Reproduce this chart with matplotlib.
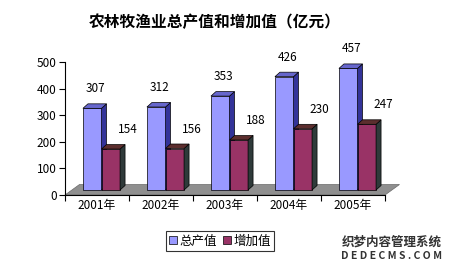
import matplotlib
matplotlib.use("Agg")
import matplotlib.pyplot as plt
from matplotlib.patches import Polygon, Patch

plt.rcParams['font.family'] = ['Noto Sans CJK SC', 'DejaVu Sans']

categories = ['2001年', '2002年', '2003年', '2004年', '2005年']
total_output = [307, 312, 353, 426, 457]
value_added = [154, 156, 188, 230, 247]
series_names = ['总产值', '增加值']
title = '农林牧渔业总产值和增加值（亿元）'

W, H = 453, 270
fig = plt.figure(figsize=(W / 100, H / 100), dpi=100)
ax_l, ax_b, ax_w, ax_h = 65, 75, 320, 133
ax = fig.add_axes([ax_l / W, ax_b / H, ax_w / W, ax_h / H])
n = len(categories)
ax.set_xlim(0, n)
ax.set_ylim(0, 500)

pxX = n / ax_w
pxY = 500 / ax_h

# offsets in pixels (right, up)
Fx, Fy = 4.5 * pxX, 5 * pxY      # bar front plane
Bx, By = 5 * pxX, 4.5 * pxY      # bar depth
Dx, Dy = 14.5 * pxX, 10.5 * pxY  # floor depth

# floor
floor = Polygon([(0, 0), (n, 0), (n + Dx, Dy), (Dx, Dy)], closed=True,
                facecolor='#8f8f8f', edgecolor='#6a6a6a', lw=0.5,
                clip_on=False, zorder=1)
ax.add_patch(floor)

w = 0.29
styles = [
    dict(front='#9999ff', side='#333399', top='#6666cc'),
    dict(front='#993366', side='#2f3a3a', top='#5c2e2e'),
]
xs = list(range(n))
for s, (vals, st) in enumerate(zip([total_output, value_added], styles)):
    lefts = [i + 0.5 - w + s * w for i in xs]
    z = 3 + s
    ax.bar([l + Fx for l in lefts], vals, width=w, bottom=Fy, align='edge',
           color=st['front'], edgecolor='black', lw=0.5, zorder=z)
    for l, v in zip(lefts, vals):
        x0 = l + Fx
        x1 = x0 + w
        side = Polygon([(x1, Fy), (x1 + Bx, Fy + By), (x1 + Bx, v + Fy + By), (x1, v + Fy)],
                       closed=True, facecolor=st['side'], edgecolor='black', lw=0.5,
                       zorder=z, clip_on=False)
        top = Polygon([(x0, v + Fy), (x1, v + Fy), (x1 + Bx, v + Fy + By), (x0 + Bx, v + Fy + By)],
                      closed=True, facecolor=st['top'], edgecolor='black', lw=0.5,
                      zorder=z, clip_on=False)
        ax.add_patch(side)
        ax.add_patch(top)

# data labels
for i in xs:
    ax.text(i + 0.48, total_output[i] + 92, str(total_output[i]), ha='center', va='center',
            fontsize=8.5, clip_on=False)
    ax.text(i + 0.98, value_added[i] + 92, str(value_added[i]), ha='center', va='center',
            fontsize=8.5, clip_on=False)

# axes styling
for sp in ['top', 'right']:
    ax.spines[sp].set_visible(False)
ax.spines['left'].set_linewidth(0.8)
ax.spines['bottom'].set_linewidth(0.8)
ax.spines['bottom'].set_zorder(2)
ax.set_yticks(range(0, 501, 100))
ax.tick_params(axis='y', direction='out', length=4, width=0.8, labelsize=8.5, pad=2)
ax.set_xticks(range(0, n + 1))
ax.set_xticklabels([])
ax.set_xticks([i + 0.5 for i in xs], minor=True)
ax.set_xticklabels(categories, minor=True)
ax.tick_params(axis='x', which='major', direction='out', length=4, width=0.8)
ax.tick_params(axis='x', which='minor', length=0, labelsize=8.5, pad=3)
ax.set_facecolor('none')

fig.text(215 / W, 1 - 22 / H, title, ha='center', va='center', fontsize=11.3, fontweight='bold')

handles = [Patch(facecolor=styles[0]['front'], edgecolor='black', lw=0.5),
           Patch(facecolor=styles[1]['front'], edgecolor='black', lw=0.5)]
leg = fig.legend(handles, series_names, loc='center', bbox_to_anchor=(220 / W, 1 - 241 / H),
                 ncol=2, fontsize=9, frameon=True, fancybox=False, edgecolor='black',
                 handlelength=0.6, handleheight=0.6, handletextpad=0.2, columnspacing=0.5,
                 borderpad=0.25, borderaxespad=0)
leg.get_frame().set_linewidth(0.8)

fig.text(392 / W, 1 - 242 / H, '织梦内容管理系统', ha='center', va='center', fontsize=9,
         fontweight='bold', color='#333333')
fig.text(392 / W, 1 - 256 / H, 'D E D E C M S . C O M', ha='center', va='center', fontsize=7.5,
         fontweight='bold', color='#333333')

fig.savefig('out.png', dpi=100)
